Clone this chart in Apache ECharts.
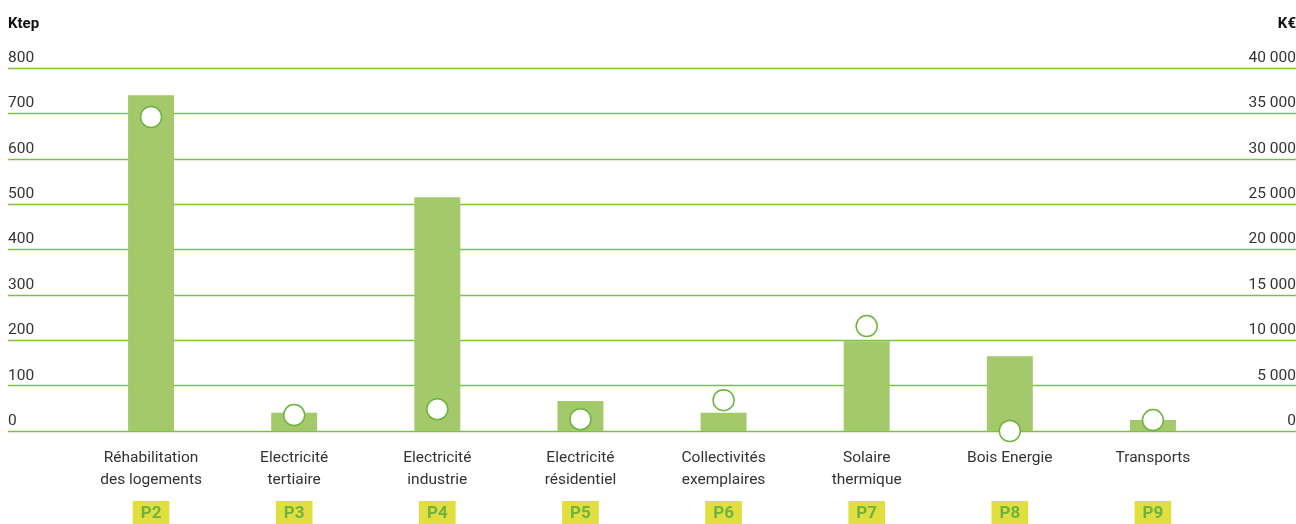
<!DOCTYPE html>
<html>
<head>
<meta charset="utf-8">
<script src="https://cdn.jsdelivr.net/npm/echarts@6/dist/echarts.min.js"></script>
<style>
html,body{margin:0;padding:0;background:#fff;}
#chart{width:1296px;height:524px;}
</style>
</head>
<body>
<div id="chart"></div>
<script>
const categories = ['Réhabilitation\ndes logements','Electricité\ntertiaire','Electricité\nindustrie','Electricité\nrésidentiel','Collectivités\nexemplaires','Solaire\nthermique','Bois Energie','Transports'];
const codes = ['P2','P3','P4','P5','P6','P7','P8','P9'];
const ktep = [740, 40, 515, 66, 40, 198, 165, 24];
const keur = [34600, 1760, 2400, 1300, 3400, 11560, 0, 1200];
const leftTicks = {min:0, max:800, interval:100};
const rightTicks = {min:0, max:40000, interval:5000};

const FONT = "'Roboto','Liberation Sans',sans-serif";
const GREEN = '#7cc242';
const BAR = '#a3c96b';
const TEXT = '#333333';

const chart = echarts.init(document.getElementById('chart'), null, {renderer:'canvas'});
chart.setOption({
  animation:false,
  textStyle:{fontFamily:FONT},
  grid:[
    {left:8, right:0, top:68, bottom:93, outerBoundsMode:'none', containLabel:false},
    {left:79.5, right:71.5, top:68, bottom:93, outerBoundsMode:'none', containLabel:false}
  ],
  xAxis:[
    {gridIndex:0, type:'value', show:false, min:0, max:1},
    {gridIndex:1, type:'category', data:categories,
     axisLine:{show:false}, axisTick:{show:false},
     axisLabel:{margin:16, lineHeight:22, fontSize:15.5, color:TEXT, fontFamily:FONT, interval:0}},
    {gridIndex:1, type:'category', data:codes, position:'bottom', offset:70,
     axisLine:{show:false}, axisTick:{show:false},
     axisLabel:{margin:0, fontSize:17, fontWeight:'bold', color:'#6db33f', fontFamily:FONT, interval:0,
       backgroundColor:'#e1df3f', padding:[4,8,6,8], verticalAlign:'top'}}
  ],
  yAxis:[
    {gridIndex:0, type:'value', position:'left', min:leftTicks.min, max:leftTicks.max, interval:leftTicks.interval,
     name:'Ktep', nameLocation:'end', nameGap:40,
     nameTextStyle:{align:'left', fontWeight:'bold', fontSize:15, color:'#111', fontFamily:FONT, padding:[0,0,-4,0]},
     axisLine:{show:false}, axisTick:{show:false},
     axisLabel:{inside:true, margin:0, verticalAlign:'bottom', padding:[0,0,2,0], fontSize:15.5, color:TEXT, fontFamily:FONT},
     splitLine:{show:true, lineStyle:{color:GREEN, width:1.3}}},
    {gridIndex:0, type:'value', position:'right', min:rightTicks.min, max:rightTicks.max, interval:rightTicks.interval,
     name:'K€', nameLocation:'end', nameGap:40,
     nameTextStyle:{align:'right', fontWeight:'bold', fontSize:15, color:'#111', fontFamily:FONT, padding:[0,0,-4,0]},
     axisLine:{show:false}, axisTick:{show:false},
     axisLabel:{inside:true, margin:0, verticalAlign:'bottom', padding:[0,0,2,0], fontSize:15.5, color:TEXT, fontFamily:FONT,
       formatter:v => String(v).replace(/\B(?=(\d{3})+(?!\d))/g,' ')},
     splitLine:{show:false}},
    {gridIndex:1, type:'value', show:false, min:leftTicks.min, max:leftTicks.max},
    {gridIndex:1, type:'value', show:false, min:rightTicks.min, max:rightTicks.max}
  ],
  series:[
    {type:'bar', xAxisIndex:1, yAxisIndex:2, data:ktep, barWidth:46,
     itemStyle:{color:BAR}, z:2},
    {type:'scatter', xAxisIndex:1, yAxisIndex:3, data:keur, symbol:'circle', symbolSize:21, clip:false,
     itemStyle:{color:'#ffffff', borderColor:'#6db33f', borderWidth:1.5, opacity:1}, z:3}
  ]
});
</script>
</body>
</html>
